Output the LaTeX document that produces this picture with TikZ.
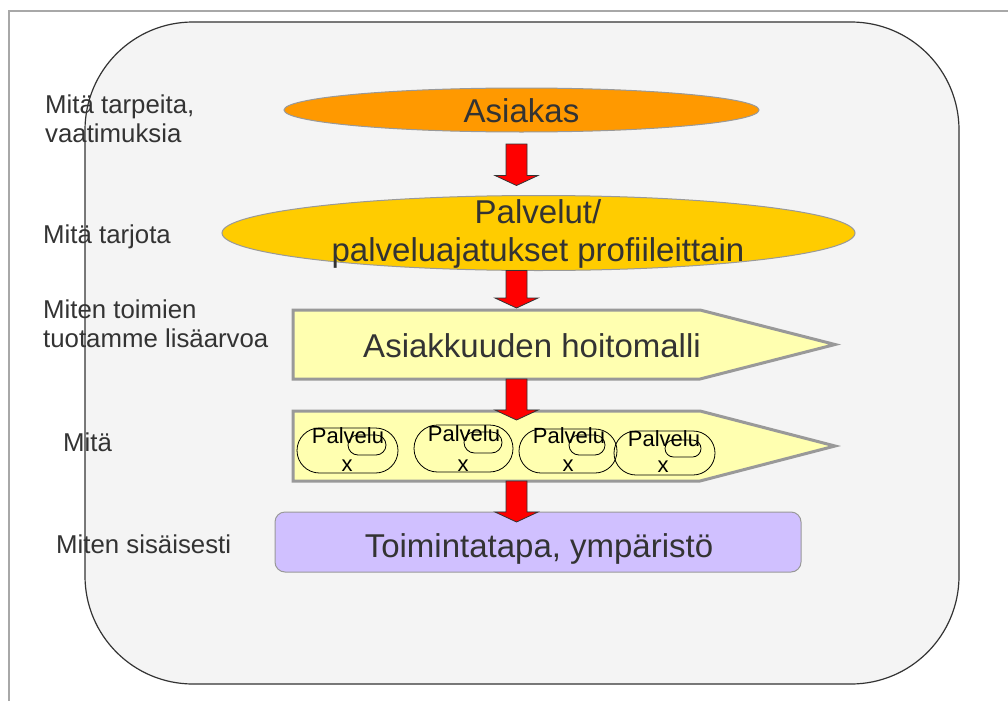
\documentclass[tikz,border=0pt]{standalone}
\usepackage{fontspec}
\setmainfont{Liberation Sans}
\usetikzlibrary{calc,shapes.geometric}

\definecolor{framegray}{HTML}{A8A8A8}
\definecolor{panelfill}{HTML}{F4F4F4}
\definecolor{panelline}{HTML}{333333}
\definecolor{txtdark}{HTML}{333333}
\definecolor{shapeline}{HTML}{999999}
\definecolor{orangefill}{HTML}{FF9900}
\definecolor{goldfill}{HTML}{FFCC00}
\definecolor{paleyellow}{HTML}{FFFFB0}
\definecolor{lavender}{HTML}{D0C0FF}
\definecolor{arrowred}{HTML}{FF0000}

% block arrow from a top point (#1) down to a tip (#2)
\newcommand{\blockarrow}[2]{%
  \draw[blockarr] ($(#1)+(-10.5,0)$) -- ($(#2)+(-10.5,-10)$) -- ($(#2)+(-21.5,-10)$)
    -- (#2) -- ($(#2)+(21.5,-10)$) -- ($(#2)+(10.5,-10)$) -- ($(#1)+(10.5,0)$) -- cycle;}

\begin{document}
\begin{tikzpicture}[x=1pt,y=-1pt,
  framestyle/.style={draw=framegray,line width=1.5pt},
  panel/.style={draw=panelline,fill=panelfill,line width=1.2pt,rounded corners=108pt,
    minimum width=874pt,minimum height=662pt,inner sep=0pt,outer sep=0pt},
  sidelabel/.style={anchor=base west,inner sep=0pt,align=left,text=txtdark,
    font=\fontsize{25.8}{29}\selectfont},
  bigtext/.style={inner sep=0pt,text=txtdark,font=\fontsize{33}{38}\selectfont},
  oval/.style={ellipse,draw=shapeline,line width=1pt,inner sep=0pt,outer sep=0pt},
  bodybox/.style={draw=none,inner sep=0pt,outer sep=0pt,minimum width=407pt},
  pent/.style={draw=shapeline,fill=paleyellow,line width=3pt,line join=miter},
  capsule/.style={draw=black,line width=0.8pt,rounded corners=#1,inner sep=0pt,outer sep=0pt},
  smalltext/.style={anchor=base,inner sep=0pt,text=black,font=\fontsize{22}{24}\selectfont},
  blockarr/.style={fill=arrowred,draw=txtdark,line width=0.8pt,line join=miter},
  basebox/.style={draw=shapeline,fill=lavender,line width=1pt,rounded corners=10pt,
    minimum width=526pt,minimum height=60pt,inner sep=0pt,outer sep=0pt}]

\useasboundingbox (0,0) rectangle (1008,701);

% outer frame (left and top edges)
\draw[framestyle] (9,701) -- (9,11) -- (1008,11);

% rounded background panel
\node[panel] (panel) at (522,353) {};

% row labels on the left (base = baseline of the last line)
\node[sidelabel] (l1) at (45,142) {Mitä tarpeita,\\vaatimuksia};
\node[sidelabel] (l2) at (43,243) {Mitä tarjota};
\node[sidelabel] (l3) at (43,347) {Miten toimien\\tuotamme lisäarvoa};
\node[sidelabel] (l4) at (63,451) {Mitä};
\node[sidelabel] (l5) at (56,553) {Miten sisäisesti};

% customer
\node[oval,fill=orangefill,minimum width=475pt,minimum height=44pt] (asiakas) at (521.5,110) {};
\node[bigtext,anchor=base] (asiakastxt) at (521.5,122) {Asiakas};

% services
\node[oval,fill=goldfill,minimum width=633pt,minimum height=75pt] (palvelut) at (538.5,233) {};
\node[bigtext,align=center] (palveluttxt) at (538,233.5) {Palvelut/\\palveluajatukset profiileittain};

% customer relationship model
\node[bodybox,minimum height=69pt] (hoito) at (496.5,344.5) {};
\draw[pent] (hoito.north west) -- (hoito.north east) -- ($(hoito.east)+(135,0)$)
  -- (hoito.south east) -- (hoito.south west) -- cycle;
\node[bigtext,anchor=base] (hoitotxt) at (532,357) {Asiakkuuden hoitomalli};

% service offering band
\node[bodybox,minimum height=70pt] (mita) at (496.5,446) {};
\draw[pent] (mita.north west) -- (mita.north east) -- ($(mita.east)+(135,0)$)
  -- (mita.south east) -- (mita.south west) -- cycle;

\node[capsule=22.5pt,minimum width=101pt,minimum height=45pt] (s1) at (347.5,450.5) {};
\node[capsule=10pt,minimum width=38pt,minimum height=20pt] (s1i) at (367,445) {};
\node[smalltext] (s1a) at (348,443) {Palvelu};
\node[smalltext] (s1b) at (347,471) {x};

\node[capsule=23.5pt,minimum width=99pt,minimum height=47pt] (s2) at (463.5,448.5) {};
\node[capsule=10.5pt,minimum width=38pt,minimum height=21pt] (s2i) at (483,442.5) {};
\node[smalltext] (s2a) at (464,441) {Palvelu};
\node[smalltext] (s2b) at (463,471) {x};

\node[capsule=22pt,minimum width=98pt,minimum height=44pt] (s3) at (568,451) {};
\node[capsule=10pt,minimum width=36pt,minimum height=20pt] (s3i) at (587,445) {};
\node[smalltext] (s3a) at (569,443) {Palvelu};
\node[smalltext] (s3b) at (568,471) {x};

\node[capsule=22pt,minimum width=101pt,minimum height=44pt] (s4) at (664.5,453) {};
\node[capsule=8.5pt,minimum width=36pt,minimum height=17pt] (s4i) at (683,448.5) {};
\node[smalltext] (s4a) at (664,446) {Palvelu};
\node[smalltext] (s4b) at (663,472) {x};

% way of working
\node[basebox] (toiminta) at (538,542) {};
\node[bigtext,anchor=base] (toimintatxt) at (539,557) {Toimintatapa, ympäristö};

% flow arrows
\coordinate (col) at (516.5,0);
\coordinate (a1t) at ($(col |- asiakas.south)+(0,12)$);
\coordinate (a1h) at ($(col |- palvelut.north)+(0,-10)$);
\coordinate (a2t) at (col |- palvelut.south);
\coordinate (a2h) at ($(col |- hoito.north)+(0,-2)$);
\coordinate (a3t) at (col |- hoito.south);
\coordinate (a3h) at ($(col |- mita.north)+(0,9)$);
\coordinate (a4t) at (col |- mita.south);
\coordinate (a4h) at ($(col |- toiminta.north)+(0,10)$);
\blockarrow{a1t}{a1h}
\blockarrow{a2t}{a2h}
\blockarrow{a3t}{a3h}
\blockarrow{a4t}{a4h}

\end{tikzpicture}
\end{document}
